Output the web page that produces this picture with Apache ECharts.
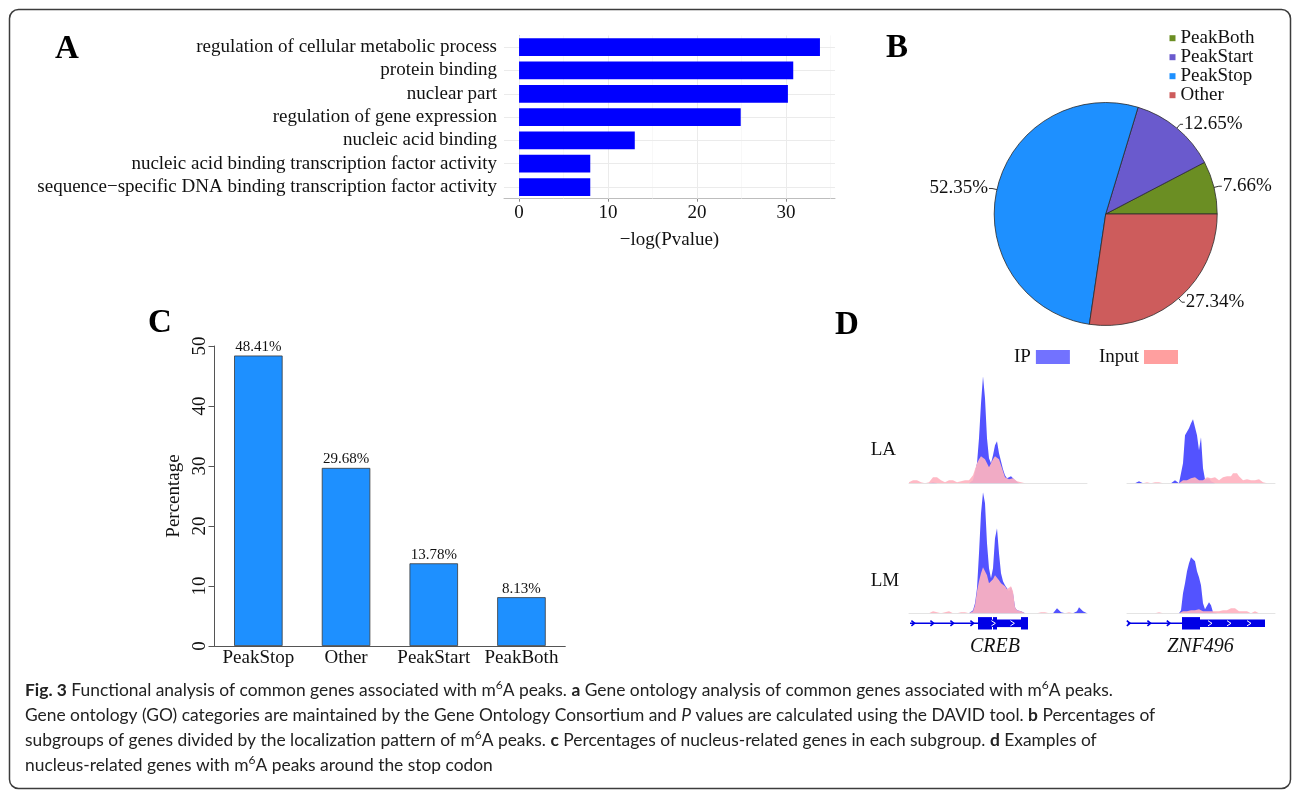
<!DOCTYPE html>
<html>
<head>
<meta charset="utf-8">
<script src="https://cdn.jsdelivr.net/npm/echarts@6/dist/echarts.min.js"></script>
<style>
  html, body { margin: 0; padding: 0; background: #fff; }
  #chart { width: 1293px; height: 791px; }
</style>
</head>
<body>
<div id="chart"></div>
<script>
// ---- Panel A: GO enrichment of common genes ----
const goTerms = [
  'regulation of cellular metabolic process',
  'protein binding',
  'nuclear part',
  'regulation of gene expression',
  'nucleic acid binding',
  'nucleic acid binding transcription factor activity',
  'sequence\u2212specific DNA binding transcription factor activity'
];
const goScores = [33.8, 30.8, 30.2, 24.9, 13.0, 8.0, 8.0];
const goTicks = [0, 10, 20, 30];

// ---- Panel B: peak localisation subgroups ----
const pieNames = ['PeakBoth', 'PeakStart', 'PeakStop', 'Other'];
const piePercents = [7.66, 12.65, 52.35, 27.34];

// ---- Panel C: nucleus-related genes per subgroup ----
const nucCategories = ['PeakStop', 'Other', 'PeakStart', 'PeakBoth'];
const nucPercents = [48.41, 29.68, 13.78, 8.13];

// ---- Panel D: read coverage (equal-width bins along each locus) ----
const crebIpLA = [
  0,0,0,0,0,0,0,0,0,0,
  0,1,1,0,0,0,0,0,0,0,
  0,0,0,0,0,0,0,0,0,0,
  0,1,3,5,20,45,80,107,85,45,
  25,20,28,38,42,30,22,14,8,5,
  5,7,8,3,1,0,0,0,0,0,
  0,0,0,0,0,0,0,0,0,0,
  0,0,0,0,0,0,0,0,0,0,
  0,0,0,0,0,0,0,0,0,0
];
const crebInputLA = [
  1,2,3,4,3,2,1,0,0,1,
  1,3,6,5,6,4,3,2,1,2,
  3,4,3,1,1,0,2,4,3,4,
  3,5,8,14,20,24,27,27,24,20,
  16,18,24,27,27,24,18,12,6,5,
  4,5,5,3,2,1,1,0,0,0,
  0,0,0,0,0,0,0,0,0,0,
  0,0,0,0,0,0,0,0,0,0,
  0,0,0,0,0,0,0,0,0,0
];
const crebIpLM = [
  0,0,0,0,0,0,0,0,0,0,
  0,0,0,0,0,0,0,0,0,0,
  0,0,0,0,0,0,0,0,0,0,
  0,1,3,10,25,60,100,121,110,70,
  45,35,45,75,85,60,40,32,28,25,
  22,26,20,6,3,4,2,0,0,0,
  0,0,0,0,0,0,0,0,0,0,
  0,0,0,2,5,4,1,0,0,0,
  0,0,0,0,2,6,4,2,1,0
];
const crebInputLM = [
  0,0,0,1,0,1,0,0,0,0,
  0,0,2,2,1,0,0,0,1,2,
  2,1,0,0,0,0,1,2,1,1,
  0,1,2,8,22,32,40,46,46,38,
  30,28,34,38,38,33,30,28,27,24,
  24,27,22,6,3,4,2,1,0,0,
  0,0,0,0,0,0,1,2,1,0,
  0,0,0,0,0,0,0,0,0,0,
  1,1,0,0,0,0,0,0,0,0
];
const znfIpLA = [
  0,0,0,0,0,0,2,1,0,0,
  0,0,0,0,0,0,0,0,0,0,
  0,0,0,0,3,2,0,0,20,48,
  50,55,60,64,63,48,33,46,15,4,
  3,5,2,0,0,0,0,0,0,0,
  0,0,0,0,0,0,0,0,0,0,
  0,0,0,0,0,0,0,0,0,0,
  0,0,0,0,0
];
const znfInputLA = [
  0,0,0,0,0,0,0,0,0,0,
  1,0,0,0,1,2,1,0,0,0,
  0,0,0,0,0,0,0,0,3,4,
  3,4,5,4,6,4,3,4,3,5,
  6,4,5,7,6,4,3,5,6,5,
  7,8,7,10,12,10,7,5,3,3,
  4,4,3,4,3,2,4,3,1,0,
  0,0,0,0,0
];
const znfIpLM = [
  0,0,0,0,0,0,0,0,0,0,
  0,0,0,0,0,0,0,0,0,0,
  0,0,0,0,0,0,0,3,20,30,
  42,50,56,58,52,42,36,28,10,4,
  6,11,8,1,0,0,0,0,0,0,
  0,0,0,0,0,0,0,0,0,0,
  0,0,0,0,0,0,0,0,0,0,
  0,0,0,0,0
];
const znfInputLM = [
  0,0,0,0,0,0,0,0,0,0,
  0,0,0,0,0,1,1,0,0,0,
  0,0,0,0,0,0,0,0,2,3,
  2,3,3,2,3,3,4,3,2,3,
  2,3,2,1,2,3,2,4,3,2,
  3,4,5,4,5,3,2,1,2,3,
  2,1,0,2,2,1,0,0,0,0,
  0,0,0,0,0
];

// Gene models in the same bin units: [start, end, feature] (0 intron, 1 UTR, 2 CDS)
const crebModel = [[0.5, 34.5, 0], [34.5, 41.5, 2], [41.5, 42, 1], [42, 44, 2], [44, 56, 1], [56, 59.5, 2]];
const crebIntronArrows = [2, 11.5, 21.5, 31.5];
const crebExonArrows = [42.2, 51.7];
const znfModel = [[0.4, 27.5, 0], [27.5, 36.5, 2], [36.5, 69, 1]];
const znfIntronArrows = [0.7, 11, 20.7];
const znfExonArrows = [41.5, 51, 61];

// ---- styling ----
const SERIF = '"Liberation Serif", "Times New Roman", serif';
const SANS = 'Lato, "Open Sans", "Noto Sans", sans-serif';
const INK = '#111';
const pieColors = ['#6b8e23', '#6a5acd', '#1e90ff', '#cd5c5c'];
const IP_COLOR = '#5353ff';
const INPUT_COLOR = '#ffb3c0';
const GENE_COLOR = '#0000e6';
const CAPTION_SIZE = 17.4;

const chart = echarts.init(document.getElementById('chart'));

const asPairs = arr => arr.map((v, i) => [i, v]);

// Coverage tracks: grid positions for the four panels of D
const trackGrids = [
  { left: 909, top: 358.3, width: 178, height: 125 },
  { left: 909, top: 488.3, width: 178, height: 125 },
  { left: 1127, top: 358.3, width: 148, height: 125 },
  { left: 1127, top: 488.3, width: 148, height: 125 }
];
const trackData = [
  [crebIpLA, crebInputLA],
  [crebIpLM, crebInputLM],
  [znfIpLA, znfInputLA],
  [znfIpLM, znfInputLM]
];

const grids = [
  { left: 504, top: 35.5, width: 331, height: 163.2 },     // A
  { left: 214.5, top: 346, width: 350.8, height: 300 },    // C
  ...trackGrids,                                           // D tracks
  { left: 909, top: 616.3, width: 178, height: 14 },       // D CREB gene model
  { left: 1127, top: 616.3, width: 148, height: 14 }       // D ZNF496 gene model
];

const xAxes = [
  {
    gridIndex: 0, type: 'value', min: -1.69, max: 35.49,
    axisLine: { show: true, lineStyle: { color: '#bdbdbd', width: 1 } },
    axisTick: { show: true, customValues: goTicks, length: 3, lineStyle: { color: '#888' } },
    axisLabel: { customValues: goTicks, fontSize: 19, fontFamily: SERIF, color: INK, margin: 5 },
    splitLine: { show: false },
    name: '\u2212log(Pvalue)', nameLocation: 'middle', nameGap: 32,
    nameTextStyle: { fontSize: 19, fontFamily: SERIF, color: INK }
  },
  {
    gridIndex: 1, type: 'category', data: nucCategories,
    axisLine: { show: true, lineStyle: { color: '#555', width: 1 } },
    axisTick: { show: false },
    axisLabel: { interval: 0, fontSize: 19, fontFamily: SERIF, color: INK, margin: 3 }
  }
];
const yAxes = [
  {
    gridIndex: 0, type: 'category', data: goTerms, inverse: true,
    axisLine: { show: true, lineStyle: { color: '#bdbdbd', width: 1 } },
    axisTick: { show: true, alignWithLabel: true, interval: 0, length: 3, lineStyle: { color: '#888' } },
    axisLabel: { interval: 0, fontSize: 19, fontFamily: SERIF, color: INK, margin: 7 },
    splitLine: { show: false }
  },
  {
    gridIndex: 1, type: 'value', min: 0, max: 50, interval: 10,
    axisLine: { show: true, lineStyle: { color: '#555', width: 1 } },
    axisTick: { show: true, length: 6, lineStyle: { color: '#555' } },
    axisLabel: { rotate: 90, fontSize: 19, fontFamily: SERIF, color: INK, margin: 5 },
    splitLine: { show: false },
    name: 'Percentage', nameLocation: 'middle', nameGap: 31, nameRotate: 90,
    nameTextStyle: { fontSize: 19, fontFamily: SERIF, color: INK }
  }
];

// track axes
trackData.forEach((pair, t) => {
  const gi = 2 + t;
  xAxes.push({
    gridIndex: gi, type: 'value', min: 0, max: pair[0].length - 1,
    axisLine: { show: true, onZero: false, lineStyle: { color: '#e4e4e4', width: 1 } },
    axisTick: { show: false }, axisLabel: { show: false }, splitLine: { show: false }
  });
  yAxes.push({ gridIndex: gi, type: 'value', min: 0, max: 125, show: false });
});
// gene model axes
[crebIpLA.length, znfIpLA.length].forEach((n, g) => {
  const gi = 6 + g;
  xAxes.push({ gridIndex: gi, type: 'value', min: 0, max: n - 1, show: false });
  yAxes.push({ gridIndex: gi, type: 'value', min: 0, max: 1, show: false });
});

// Grid guide lines for panel A (major at ticks, minor halfway, one per term)
const minorTicks = goTicks.map(v => v + 5);
const guideLines = [
  ...goTicks.map(v => ({ xAxis: v })),
  ...minorTicks.map(v => ({ xAxis: v, lineStyle: { color: '#f4f4f4', width: 0.6 } })),
  ...goTerms.map(t => ({ yAxis: t }))
];

const series = [
  {
    type: 'bar', xAxisIndex: 0, yAxisIndex: 0, data: goScores,
    barWidth: '76%', z: 2,
    itemStyle: { color: '#0000ff' },
    markLine: {
      silent: true, symbol: 'none', z: 1, animation: false,
      label: { show: false },
      lineStyle: { color: '#ebebeb', width: 1, type: 'solid' },
      emphasis: { disabled: true },
      data: guideLines
    }
  },
  {
    type: 'pie', center: [1105.7, 214], radius: 111.5,
    startAngle: 0, clockwise: false,
    data: pieNames.map((n, i) => ({ name: n, value: piePercents[i], itemStyle: { color: pieColors[i] } })),
    itemStyle: { borderColor: '#2b2b2b', borderWidth: 0.8 },
    label: {
      formatter: p => p.value.toFixed(2) + '%',
      fontSize: 19, fontFamily: SERIF, color: INK,
      distanceToLabelLine: 1
    },
    labelLine: { length: 5, length2: 3, lineStyle: { color: '#333', width: 1 } },
    emphasis: { disabled: true }
  },
  {
    type: 'bar', xAxisIndex: 1, yAxisIndex: 1, data: nucPercents,
    barWidth: 48.5,
    itemStyle: { color: '#1e90ff', borderColor: '#3a3a3a', borderWidth: 0.8 },
    label: {
      show: true, position: 'top', distance: 1,
      formatter: p => p.value.toFixed(2) + '%',
      fontSize: 15, fontFamily: SERIF, color: INK
    }
  }
];

trackData.forEach((pair, t) => {
  const gi = 2 + t;
  series.push({
    name: 'IP', type: 'line', xAxisIndex: gi, yAxisIndex: gi,
    data: asPairs(pair[0]), symbol: 'none', silent: true, z: 2,
    itemStyle: { color: IP_COLOR },
    lineStyle: { width: 0, color: IP_COLOR },
    areaStyle: { color: IP_COLOR, opacity: 1 }
  });
  series.push({
    name: 'Input', type: 'line', xAxisIndex: gi, yAxisIndex: gi,
    data: asPairs(pair[1]), symbol: 'none', silent: true, z: 3,
    itemStyle: { color: INPUT_COLOR },
    lineStyle: { width: 0, color: INPUT_COLOR },
    areaStyle: { color: INPUT_COLOR, opacity: 0.92 }
  });
});

// Gene structure: intron line, UTR and CDS boxes
function geneRender(params, api) {
  const s = api.value(0), e = api.value(1), kind = api.value(2);
  const p0 = api.coord([s, 0.5]);
  const p1 = api.coord([e, 0.5]);
  if (kind === 0) {
    return { type: 'line', shape: { x1: p0[0], y1: p0[1], x2: p1[0], y2: p1[1] },
             style: { stroke: GENE_COLOR, lineWidth: 1.5 } };
  }
  const h = kind === 2 ? 12.4 : 7.6;
  return { type: 'rect', shape: { x: p0[0], y: p0[1] - h / 2, width: p1[0] - p0[0], height: h },
           style: { fill: GENE_COLOR } };
}
// Strand arrows: blue on introns, white inside exons
function arrowRender(params, api) {
  const pos = api.value(0), onExon = api.value(1);
  const p = api.coord([pos, 0.5]);
  const w = onExon ? 2 : 1.6, h = 2.6;
  return { type: 'polyline',
           shape: { points: [[p[0] - w, p[1] - h], [p[0] + w, p[1]], [p[0] - w, p[1] + h]] },
           style: { stroke: onExon ? '#ffffff' : GENE_COLOR, lineWidth: onExon ? 1 : 1.6, fill: null } };
}
[[crebModel, crebIntronArrows, crebExonArrows], [znfModel, znfIntronArrows, znfExonArrows]].forEach((g, i) => {
  const gi = 6 + i;
  series.push({
    type: 'custom', xAxisIndex: gi, yAxisIndex: gi, silent: true, z: 4,
    renderItem: geneRender, data: g[0]
  });
  series.push({
    type: 'custom', xAxisIndex: gi, yAxisIndex: gi, silent: true, z: 5,
    renderItem: arrowRender,
    data: [...g[1].map(v => [v, 0]), ...g[2].map(v => [v, 1])]
  });
});

// Figure text: panel letters, track labels, caption, frame
const letter = (txt, x, y) => ({
  type: 'text', silent: true,
  style: { text: txt, x: x, y: y, fontSize: 33, fontWeight: 'bold', fontFamily: SERIF, fill: '#000',
           verticalAlign: 'top' }
});
const plain = (txt, x, y, size, italic) => ({
  type: 'text', silent: true,
  style: { text: txt, x: x, y: y, fontSize: size, fontStyle: italic ? 'italic' : 'normal',
           fontFamily: SERIF, fill: INK, align: 'center', verticalAlign: 'middle' }
});
const captionRich = {
  b: { fontWeight: 'bold', fontSize: CAPTION_SIZE, fontFamily: SANS, fill: '#222' },
  s: { fontSize: 12, fontFamily: SANS, verticalAlign: 'top', lineHeight: 15, fill: '#222' },
  i: { fontStyle: 'italic', fontSize: CAPTION_SIZE, fontFamily: SANS, fill: '#222' }
};
const captionLines = [
  '{b|Fig. 3} Functional analysis of common genes associated with m{s|6}A peaks. {b|a} Gene ontology analysis of common genes associated with m{s|6}A peaks.',
  'Gene ontology (GO) categories are maintained by the Gene Ontology Consortium and {i|P} values are calculated using the DAVID tool. {b|b} Percentages of',
  'subgroups of genes divided by the localization pattern of m{s|6}A peaks. {b|c} Percentages of nucleus-related genes in each subgroup. {b|d} Examples of',
  'nucleus-related genes with m{s|6}A peaks around the stop codon'
];
const captionEls = captionLines.map((line, i) => ({
  type: 'text', silent: true,
  style: { text: line, x: 25, y: 690 + i * 25, fontSize: CAPTION_SIZE, fontFamily: SANS, fill: '#222',
           verticalAlign: 'middle', lineHeight: 22, rich: captionRich }
}));

const graphics = [
  { type: 'rect', silent: true, z: -10,
    shape: { x: 9.5, y: 9.5, width: 1281, height: 779, r: 9 },
    style: { fill: 'none', stroke: '#3c3c3c', lineWidth: 1.5 } },
  letter('A', 55, 33),
  letter('B', 886, 31.5),
  letter('C', 148, 307),
  letter('D', 835, 309),
  plain('LA', 883.4, 450, 19, false),
  plain('LM', 885, 581, 19, false),
  plain('CREB', 995, 647, 20, true),
  plain('ZNF496', 1200.5, 647, 20, true),
  ...captionEls
];

chart.setOption({
  animation: false,
  textStyle: { fontFamily: SERIF },
  grid: grids,
  xAxis: xAxes,
  yAxis: yAxes,
  legend: [
    {
      data: pieNames, orient: 'vertical', left: 1164.5, top: 23.7,
      icon: 'rect', itemWidth: 6, itemHeight: 6, itemGap: 0,
      selectedMode: false,
      itemStyle: { borderWidth: 0 },
      textStyle: { fontSize: 19, fontFamily: SERIF, color: INK, lineHeight: 18.6 }
    },
    {
      data: [
        { name: 'IP', itemStyle: { color: '#7272ff', borderWidth: 0 } },
        { name: 'Input', itemStyle: { color: '#ff9f9f', borderWidth: 0 } }
      ],
      orient: 'horizontal', left: 1009, top: 342.5, align: 'right',
      icon: 'rect', itemWidth: 34, itemHeight: 14, itemGap: 29,
      selectedMode: false,
      textStyle: { fontSize: 19, fontFamily: SERIF, color: INK }
    }
  ],
  series: series,
  graphic: graphics
});
</script>
</body>
</html>
